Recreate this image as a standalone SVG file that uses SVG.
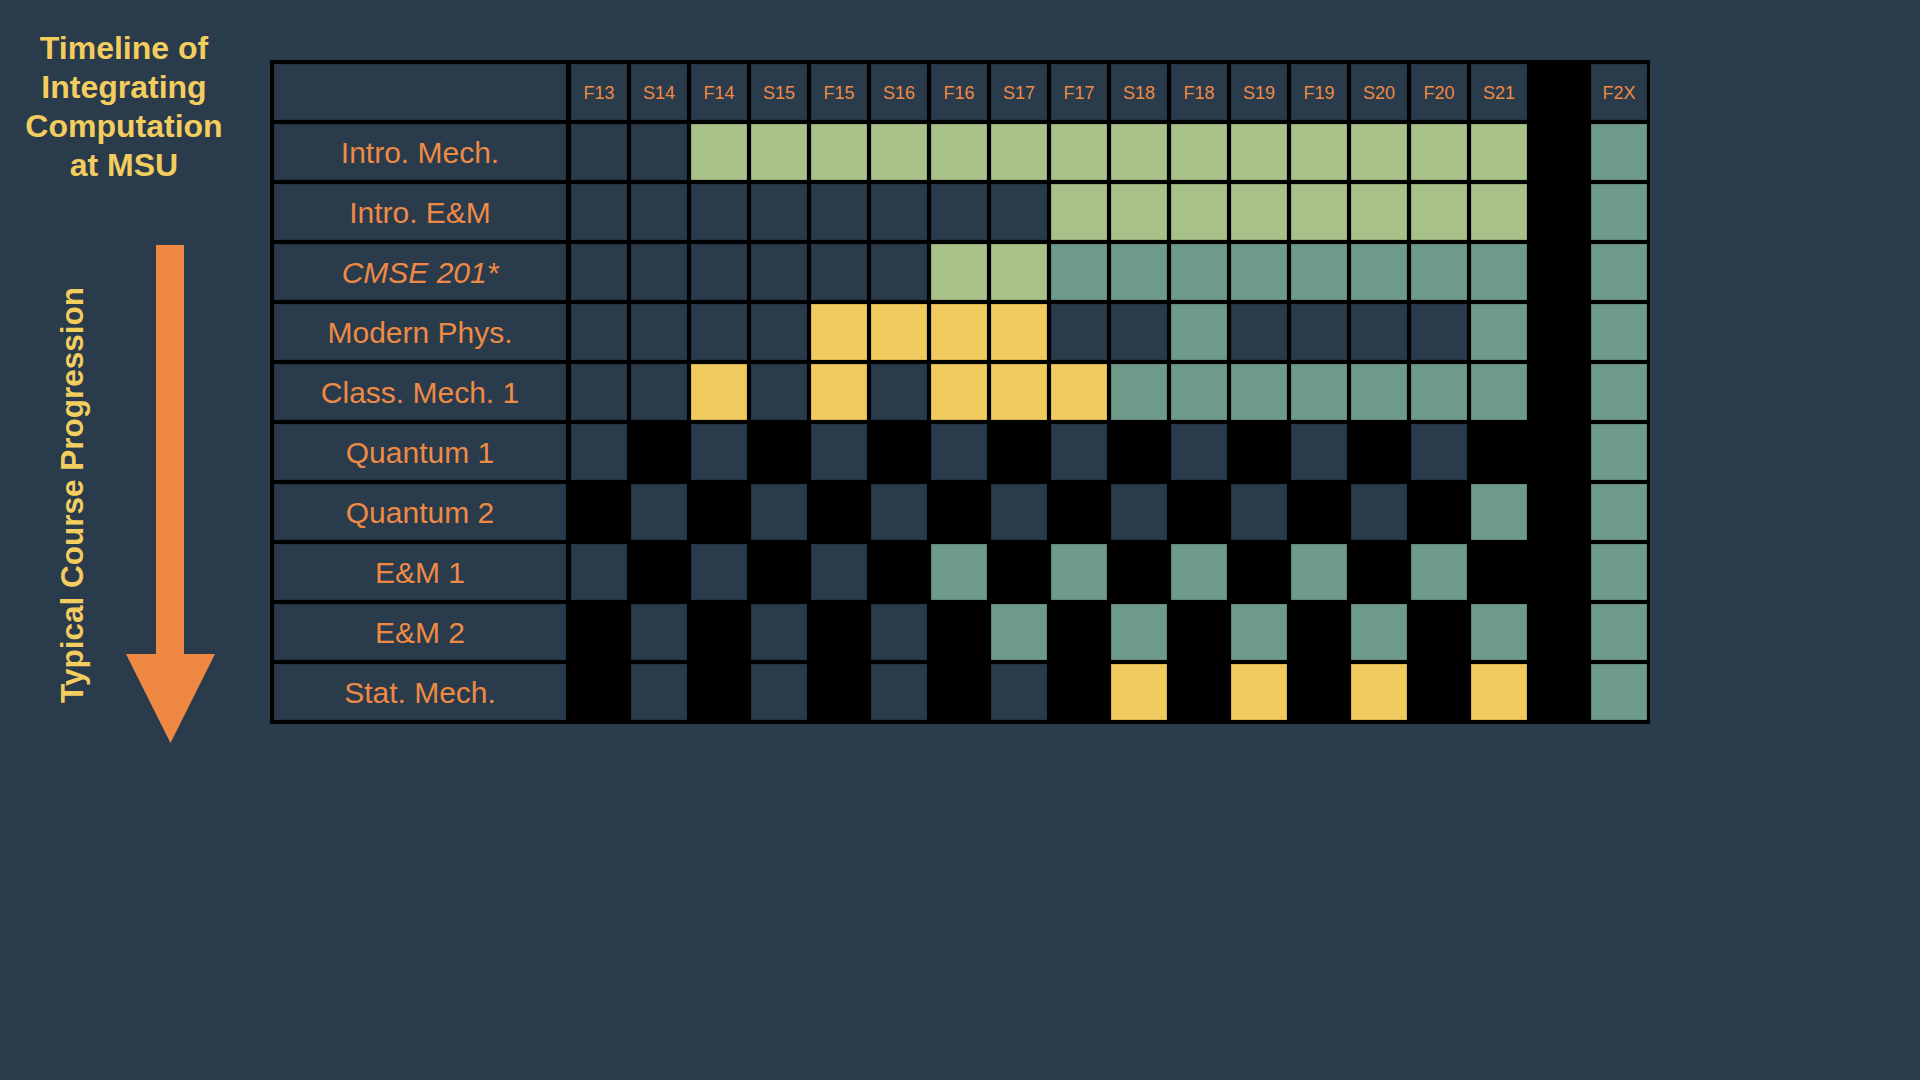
<svg xmlns="http://www.w3.org/2000/svg" width="1920" height="1080" viewBox="0 0 1920 1080">
<style>
.bg{fill:#2a3b4b}
.c{stroke:#000;stroke-opacity:0.22;stroke-width:1}
.d{fill:#2a3b4b}
.g{fill:#a7c188}
.t{fill:#6d9a89}
.y{fill:#f2cb5f}
.lbl{font-family:"Liberation Sans",Arial,sans-serif;font-size:30px;fill:#ef8a45;text-anchor:middle}
.hdr{font-family:"Liberation Sans",Arial,sans-serif;font-size:18px;fill:#ef8a45;text-anchor:middle}
.title{font-family:"Liberation Sans",Arial,sans-serif;font-size:32px;font-weight:bold;fill:#f3cd5e;text-anchor:middle}
</style>
<rect class="bg" x="0" y="0" width="1920" height="1080"/>

<g id="title">
<text class="title" x="124" y="59">Timeline of</text>
<text class="title" x="124" y="98">Integrating</text>
<text class="title" x="124" y="137">Computation</text>
<text class="title" x="124" y="176">at MSU</text>
</g>

<g id="progression-label">
<text class="title" transform="translate(83,495) rotate(-90)" style="font-size:31.5px">Typical Course Progression</text>
</g>

<g id="progression-arrow">
<polygon points="156,245 184,245 184,654 215,654 170.5,743 126,654 156,654" fill="#ee8843"/>
</g>

<g id="table">
<rect x="270" y="60" width="1380" height="664" fill="#000"/>

<g id="header" transform="translate(0,64)">
<rect class="c d" x="274" y="0" width="292" height="56"/>
<rect class="c d" x="571" y="0" width="56" height="56"/>
<rect class="c d" x="631" y="0" width="56" height="56"/>
<rect class="c d" x="691" y="0" width="56" height="56"/>
<rect class="c d" x="751" y="0" width="56" height="56"/>
<rect class="c d" x="811" y="0" width="56" height="56"/>
<rect class="c d" x="871" y="0" width="56" height="56"/>
<rect class="c d" x="931" y="0" width="56" height="56"/>
<rect class="c d" x="991" y="0" width="56" height="56"/>
<rect class="c d" x="1051" y="0" width="56" height="56"/>
<rect class="c d" x="1111" y="0" width="56" height="56"/>
<rect class="c d" x="1171" y="0" width="56" height="56"/>
<rect class="c d" x="1231" y="0" width="56" height="56"/>
<rect class="c d" x="1291" y="0" width="56" height="56"/>
<rect class="c d" x="1351" y="0" width="56" height="56"/>
<rect class="c d" x="1411" y="0" width="56" height="56"/>
<rect class="c d" x="1471" y="0" width="56" height="56"/>
<rect class="c d" x="1591" y="0" width="56" height="56"/>
<text class="hdr" x="599" y="35">F13</text>
<text class="hdr" x="659" y="35">S14</text>
<text class="hdr" x="719" y="35">F14</text>
<text class="hdr" x="779" y="35">S15</text>
<text class="hdr" x="839" y="35">F15</text>
<text class="hdr" x="899" y="35">S16</text>
<text class="hdr" x="959" y="35">F16</text>
<text class="hdr" x="1019" y="35">S17</text>
<text class="hdr" x="1079" y="35">F17</text>
<text class="hdr" x="1139" y="35">S18</text>
<text class="hdr" x="1199" y="35">F18</text>
<text class="hdr" x="1259" y="35">S19</text>
<text class="hdr" x="1319" y="35">F19</text>
<text class="hdr" x="1379" y="35">S20</text>
<text class="hdr" x="1439" y="35">F20</text>
<text class="hdr" x="1499" y="35">S21</text>
<text class="hdr" x="1619" y="35">F2X</text>
</g>

<g id="row-intro-mech" transform="translate(0,124)">
<rect class="c d" x="274" y="0" width="292" height="56"/>
<text class="lbl" x="420" y="39">Intro. Mech.</text>
<rect class="c d" x="571" y="0" width="56" height="56"/>
<rect class="c d" x="631" y="0" width="56" height="56"/>
<rect class="c g" x="691" y="0" width="56" height="56"/>
<rect class="c g" x="751" y="0" width="56" height="56"/>
<rect class="c g" x="811" y="0" width="56" height="56"/>
<rect class="c g" x="871" y="0" width="56" height="56"/>
<rect class="c g" x="931" y="0" width="56" height="56"/>
<rect class="c g" x="991" y="0" width="56" height="56"/>
<rect class="c g" x="1051" y="0" width="56" height="56"/>
<rect class="c g" x="1111" y="0" width="56" height="56"/>
<rect class="c g" x="1171" y="0" width="56" height="56"/>
<rect class="c g" x="1231" y="0" width="56" height="56"/>
<rect class="c g" x="1291" y="0" width="56" height="56"/>
<rect class="c g" x="1351" y="0" width="56" height="56"/>
<rect class="c g" x="1411" y="0" width="56" height="56"/>
<rect class="c g" x="1471" y="0" width="56" height="56"/>
<rect class="c t" x="1591" y="0" width="56" height="56"/>
</g>

<g id="row-intro-em" transform="translate(0,184)">
<rect class="c d" x="274" y="0" width="292" height="56"/>
<text class="lbl" x="420" y="39">Intro. E&amp;M</text>
<rect class="c d" x="571" y="0" width="56" height="56"/>
<rect class="c d" x="631" y="0" width="56" height="56"/>
<rect class="c d" x="691" y="0" width="56" height="56"/>
<rect class="c d" x="751" y="0" width="56" height="56"/>
<rect class="c d" x="811" y="0" width="56" height="56"/>
<rect class="c d" x="871" y="0" width="56" height="56"/>
<rect class="c d" x="931" y="0" width="56" height="56"/>
<rect class="c d" x="991" y="0" width="56" height="56"/>
<rect class="c g" x="1051" y="0" width="56" height="56"/>
<rect class="c g" x="1111" y="0" width="56" height="56"/>
<rect class="c g" x="1171" y="0" width="56" height="56"/>
<rect class="c g" x="1231" y="0" width="56" height="56"/>
<rect class="c g" x="1291" y="0" width="56" height="56"/>
<rect class="c g" x="1351" y="0" width="56" height="56"/>
<rect class="c g" x="1411" y="0" width="56" height="56"/>
<rect class="c g" x="1471" y="0" width="56" height="56"/>
<rect class="c t" x="1591" y="0" width="56" height="56"/>
</g>

<g id="row-cmse-201" transform="translate(0,244)">
<rect class="c d" x="274" y="0" width="292" height="56"/>
<text class="lbl" x="420" y="39" font-style="italic">CMSE 201*</text>
<rect class="c d" x="571" y="0" width="56" height="56"/>
<rect class="c d" x="631" y="0" width="56" height="56"/>
<rect class="c d" x="691" y="0" width="56" height="56"/>
<rect class="c d" x="751" y="0" width="56" height="56"/>
<rect class="c d" x="811" y="0" width="56" height="56"/>
<rect class="c d" x="871" y="0" width="56" height="56"/>
<rect class="c g" x="931" y="0" width="56" height="56"/>
<rect class="c g" x="991" y="0" width="56" height="56"/>
<rect class="c t" x="1051" y="0" width="56" height="56"/>
<rect class="c t" x="1111" y="0" width="56" height="56"/>
<rect class="c t" x="1171" y="0" width="56" height="56"/>
<rect class="c t" x="1231" y="0" width="56" height="56"/>
<rect class="c t" x="1291" y="0" width="56" height="56"/>
<rect class="c t" x="1351" y="0" width="56" height="56"/>
<rect class="c t" x="1411" y="0" width="56" height="56"/>
<rect class="c t" x="1471" y="0" width="56" height="56"/>
<rect class="c t" x="1591" y="0" width="56" height="56"/>
</g>

<g id="row-modern-phys" transform="translate(0,304)">
<rect class="c d" x="274" y="0" width="292" height="56"/>
<text class="lbl" x="420" y="39">Modern Phys.</text>
<rect class="c d" x="571" y="0" width="56" height="56"/>
<rect class="c d" x="631" y="0" width="56" height="56"/>
<rect class="c d" x="691" y="0" width="56" height="56"/>
<rect class="c d" x="751" y="0" width="56" height="56"/>
<rect class="c y" x="811" y="0" width="56" height="56"/>
<rect class="c y" x="871" y="0" width="56" height="56"/>
<rect class="c y" x="931" y="0" width="56" height="56"/>
<rect class="c y" x="991" y="0" width="56" height="56"/>
<rect class="c d" x="1051" y="0" width="56" height="56"/>
<rect class="c d" x="1111" y="0" width="56" height="56"/>
<rect class="c t" x="1171" y="0" width="56" height="56"/>
<rect class="c d" x="1231" y="0" width="56" height="56"/>
<rect class="c d" x="1291" y="0" width="56" height="56"/>
<rect class="c d" x="1351" y="0" width="56" height="56"/>
<rect class="c d" x="1411" y="0" width="56" height="56"/>
<rect class="c t" x="1471" y="0" width="56" height="56"/>
<rect class="c t" x="1591" y="0" width="56" height="56"/>
</g>

<g id="row-class-mech-1" transform="translate(0,364)">
<rect class="c d" x="274" y="0" width="292" height="56"/>
<text class="lbl" x="420" y="39">Class. Mech. 1</text>
<rect class="c d" x="571" y="0" width="56" height="56"/>
<rect class="c d" x="631" y="0" width="56" height="56"/>
<rect class="c y" x="691" y="0" width="56" height="56"/>
<rect class="c d" x="751" y="0" width="56" height="56"/>
<rect class="c y" x="811" y="0" width="56" height="56"/>
<rect class="c d" x="871" y="0" width="56" height="56"/>
<rect class="c y" x="931" y="0" width="56" height="56"/>
<rect class="c y" x="991" y="0" width="56" height="56"/>
<rect class="c y" x="1051" y="0" width="56" height="56"/>
<rect class="c t" x="1111" y="0" width="56" height="56"/>
<rect class="c t" x="1171" y="0" width="56" height="56"/>
<rect class="c t" x="1231" y="0" width="56" height="56"/>
<rect class="c t" x="1291" y="0" width="56" height="56"/>
<rect class="c t" x="1351" y="0" width="56" height="56"/>
<rect class="c t" x="1411" y="0" width="56" height="56"/>
<rect class="c t" x="1471" y="0" width="56" height="56"/>
<rect class="c t" x="1591" y="0" width="56" height="56"/>
</g>

<g id="row-quantum-1" transform="translate(0,424)">
<rect class="c d" x="274" y="0" width="292" height="56"/>
<text class="lbl" x="420" y="39">Quantum 1</text>
<rect class="c d" x="571" y="0" width="56" height="56"/>
<rect class="c d" x="691" y="0" width="56" height="56"/>
<rect class="c d" x="811" y="0" width="56" height="56"/>
<rect class="c d" x="931" y="0" width="56" height="56"/>
<rect class="c d" x="1051" y="0" width="56" height="56"/>
<rect class="c d" x="1171" y="0" width="56" height="56"/>
<rect class="c d" x="1291" y="0" width="56" height="56"/>
<rect class="c d" x="1411" y="0" width="56" height="56"/>
<rect class="c t" x="1591" y="0" width="56" height="56"/>
</g>

<g id="row-quantum-2" transform="translate(0,484)">
<rect class="c d" x="274" y="0" width="292" height="56"/>
<text class="lbl" x="420" y="39">Quantum 2</text>
<rect class="c d" x="631" y="0" width="56" height="56"/>
<rect class="c d" x="751" y="0" width="56" height="56"/>
<rect class="c d" x="871" y="0" width="56" height="56"/>
<rect class="c d" x="991" y="0" width="56" height="56"/>
<rect class="c d" x="1111" y="0" width="56" height="56"/>
<rect class="c d" x="1231" y="0" width="56" height="56"/>
<rect class="c d" x="1351" y="0" width="56" height="56"/>
<rect class="c t" x="1471" y="0" width="56" height="56"/>
<rect class="c t" x="1591" y="0" width="56" height="56"/>
</g>

<g id="row-em-1" transform="translate(0,544)">
<rect class="c d" x="274" y="0" width="292" height="56"/>
<text class="lbl" x="420" y="39">E&amp;M 1</text>
<rect class="c d" x="571" y="0" width="56" height="56"/>
<rect class="c d" x="691" y="0" width="56" height="56"/>
<rect class="c d" x="811" y="0" width="56" height="56"/>
<rect class="c t" x="931" y="0" width="56" height="56"/>
<rect class="c t" x="1051" y="0" width="56" height="56"/>
<rect class="c t" x="1171" y="0" width="56" height="56"/>
<rect class="c t" x="1291" y="0" width="56" height="56"/>
<rect class="c t" x="1411" y="0" width="56" height="56"/>
<rect class="c t" x="1591" y="0" width="56" height="56"/>
</g>

<g id="row-em-2" transform="translate(0,604)">
<rect class="c d" x="274" y="0" width="292" height="56"/>
<text class="lbl" x="420" y="39">E&amp;M 2</text>
<rect class="c d" x="631" y="0" width="56" height="56"/>
<rect class="c d" x="751" y="0" width="56" height="56"/>
<rect class="c d" x="871" y="0" width="56" height="56"/>
<rect class="c t" x="991" y="0" width="56" height="56"/>
<rect class="c t" x="1111" y="0" width="56" height="56"/>
<rect class="c t" x="1231" y="0" width="56" height="56"/>
<rect class="c t" x="1351" y="0" width="56" height="56"/>
<rect class="c t" x="1471" y="0" width="56" height="56"/>
<rect class="c t" x="1591" y="0" width="56" height="56"/>
</g>

<g id="row-stat-mech" transform="translate(0,664)">
<rect class="c d" x="274" y="0" width="292" height="56"/>
<text class="lbl" x="420" y="39">Stat. Mech.</text>
<rect class="c d" x="631" y="0" width="56" height="56"/>
<rect class="c d" x="751" y="0" width="56" height="56"/>
<rect class="c d" x="871" y="0" width="56" height="56"/>
<rect class="c d" x="991" y="0" width="56" height="56"/>
<rect class="c y" x="1111" y="0" width="56" height="56"/>
<rect class="c y" x="1231" y="0" width="56" height="56"/>
<rect class="c y" x="1351" y="0" width="56" height="56"/>
<rect class="c y" x="1471" y="0" width="56" height="56"/>
<rect class="c t" x="1591" y="0" width="56" height="56"/>
</g>
</g>
</svg>
